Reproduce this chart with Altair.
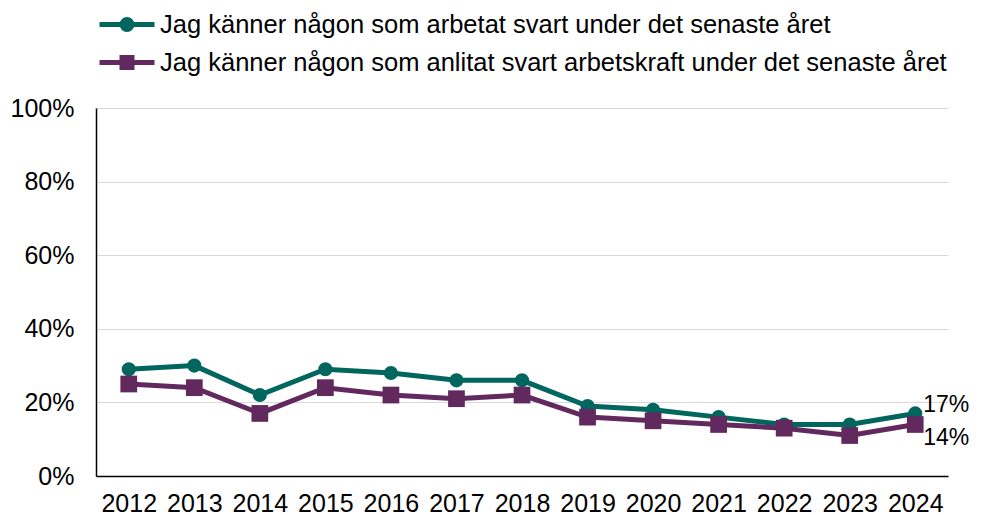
import altair as alt
import pandas as pd

years = ["2012", "2013", "2014", "2015", "2016", "2017", "2018",
         "2019", "2020", "2021", "2022", "2023", "2024"]
series_names = [
    "Jag känner någon som arbetat svart under det senaste året",
    "Jag känner någon som anlitat svart arbetskraft under det senaste året",
]
worked = [29, 30, 22, 29, 28, 26, 26, 19, 18, 16, 14, 14, 17]
hired = [25, 24, 17, 24, 22, 21, 22, 16, 15, 14, 13, 11, 14]
colors = ["#00665E", "#62295F"]

rows = []
for name, vals in zip(series_names, [worked, hired]):
    for i, (y, v) in enumerate(zip(years, vals)):
        rows.append({"year": y, "value": v / 100, "series": name,
                     "label": f"{v}%" if i == len(years) - 1 else ""})
df = pd.DataFrame(rows)

FONT = "Liberation Sans"
FS = 25

color_scale = alt.Scale(domain=series_names, range=colors)
x_enc = alt.X("year:O", scale=alt.Scale(type="point", padding=0.5),
              axis=alt.Axis(title=None, labelAngle=0, labelFontSize=FS,
                            labelFont=FONT, labelColor="#000000",
                            ticks=False, tickSize=0, labelPadding=15,
                            domainColor="#000000", domainWidth=1.5,
                            grid=False))
y_enc = alt.Y("value:Q", scale=alt.Scale(domain=[0, 1], nice=False),
              axis=alt.Axis(title=None, format=".0%", values=[0, 0.2, 0.4, 0.6, 0.8, 1.0],
                            labelFontSize=FS, labelFont=FONT, labelColor="#000000",
                            ticks=False, tickSize=0, labelPadding=22,
                            domainColor="#000000", domainWidth=1.5,
                            gridColor="#D9D9D9", gridWidth=1.2))

base = alt.Chart(df)

circle_path = "M-1,0H2.667M0.5,0A0.333,0.333,0,1,0,1.167,0A0.333,0.333,0,1,0,0.5,0Z"
square_path = "M-1,0H2.667M0.5,-0.333H1.167V0.333H0.5Z"


def leg():
    return alt.Legend(title=None, orient="none", legendX=1, legendY=-101,
                      labelFontSize=25.5, labelFont=FONT, labelColor="#000000",
                      symbolSize=900, symbolStrokeWidth=5,
                      labelOffset=28, rowPadding=5, padding=0,
                      labelLimit=900, symbolOpacity=1)


legend_layer = base.transform_filter("false").mark_point(
    filled=True, strokeWidth=5, opacity=1
).encode(
    x=x_enc, y=y_enc,
    color=alt.Color("series:N", scale=color_scale, sort=series_names, legend=leg()),
    stroke=alt.Stroke("series:N", scale=color_scale, sort=series_names, legend=leg()),
    shape=alt.Shape("series:N", scale=alt.Scale(domain=series_names, range=[circle_path, square_path]),
                    sort=series_names, legend=leg()),
)

lines = base.mark_line(strokeWidth=5).encode(
    x=x_enc, y=y_enc,
    color=alt.Color("series:N", scale=color_scale, legend=None),
    detail="series:N",
)

circles = base.transform_filter(alt.datum.series == series_names[0]).mark_point(
    shape="circle", filled=True, size=200, opacity=1
).encode(
    x=x_enc, y=y_enc,
    color=alt.Color("series:N", scale=color_scale, legend=None),
)

squares = base.transform_filter(alt.datum.series == series_names[1]).mark_point(
    shape="square", filled=True, size=280, opacity=1
).encode(
    x=x_enc, y=y_enc,
    color=alt.Color("series:N", scale=color_scale, legend=None),
)

label_top = base.transform_filter(
    (alt.datum.label != "") & (alt.datum.series == series_names[0])
).mark_text(
    align="left", baseline="middle", dx=8, dy=-8, fontSize=23, font=FONT, color="#000000"
).encode(x=x_enc, y=y_enc, text="label:N")

label_bottom = base.transform_filter(
    (alt.datum.label != "") & (alt.datum.series == series_names[1])
).mark_text(
    align="left", baseline="middle", dx=8, dy=14, fontSize=23, font=FONT, color="#000000"
).encode(x=x_enc, y=y_enc, text="label:N")

chart = alt.layer(legend_layer, lines, circles, squares, label_top, label_bottom).properties(
    width=852, height=368,
    autosize=alt.AutoSizeParams(type="none"),
    padding={"left": 88, "top": 100, "right": 25, "bottom": 40},
).configure(background="#FFFFFF", view=alt.ViewConfig(stroke=None))

chart.save("out.html", embed_options={"renderer": "svg", "actions": False})
